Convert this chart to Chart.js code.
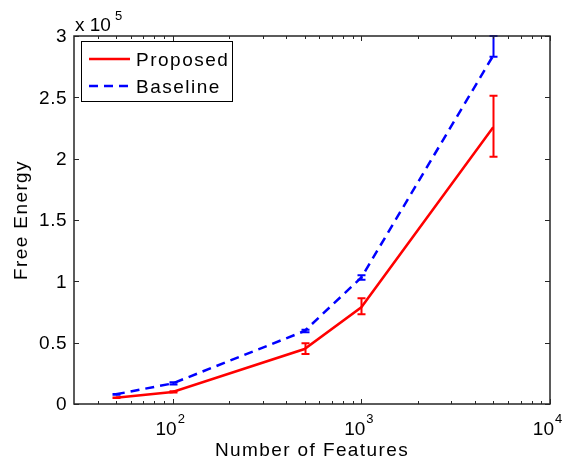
<!DOCTYPE html>
<html lang="en">
<head>
  <meta charset="UTF-8">
  <title>Free Energy vs Number of Features</title>
  <script src="https://cdn.jsdelivr.net/npm/chart.js"></script>
  <style>
    html, body { margin: 0; padding: 0; background: #fff; }
    #wrap { width: 575px; height: 462px; }
  </style>
</head>
<body>
  <div id="wrap"><canvas id="chart" width="575" height="462"></canvas></div>
  <script>
    // data (y in raw units, axis shows x 10^5)
    const features = [50, 100, 500, 1000, 5000];
    const proposed = [5100, 9800, 44800, 78800, 225600];
    const proposedLow = [4800, 9300, 40800, 73100, 201600];
    const proposedHigh = [5400, 10300, 49500, 86200, 251300];
    const baseline = [7900, 16800, 59500, 103100, 284000];
    const baselineLow = [7600, 15800, 58500, 101300, 283000];
    const baselineHigh = [8200, 17800, 60500, 104900, 300000];
    const yTicks = [0, 50000, 100000, 150000, 200000, 250000, 300000];
    const xMajor = [100, 1000, 10000];
    const xMinor = [40, 50, 60, 70, 80, 90, 200, 300, 400, 500, 600, 700, 800, 900,
                    2000, 3000, 4000, 5000, 6000, 7000, 8000, 9000];

    const FONT = '"Liberation Sans", Arial, Helvetica, sans-serif';
    const RED = '#ff0000';
    const BLUE = '#0000ff';

    function pts(ys) {
      return features.map((f, i) => ({ x: f, y: ys[i] }));
    }

    // axes box, inward ticks, labels, error bars, legend
    const matlabLook = {
      id: 'matlabLook',
      afterDatasetsDraw(chart) {
        const { ctx, chartArea: a, scales } = chart;
        const xs = scales.x, ys = scales.y;
        ctx.save();

        // error bars
        const bars = [
          [proposedLow, proposedHigh, RED],
          [baselineLow, baselineHigh, BLUE]
        ];
        bars.forEach(([lo, hi, col]) => {
          ctx.strokeStyle = col;
          ctx.lineWidth = 2;
          features.forEach((f, i) => {
            const px = Math.round(xs.getPixelForValue(f)) + 0.5;
            const y1 = ys.getPixelForValue(lo[i]);
            const y2 = ys.getPixelForValue(hi[i]);
            ctx.beginPath();
            ctx.moveTo(px, y1); ctx.lineTo(px, y2);
            ctx.moveTo(px - 4, y1); ctx.lineTo(px + 4, y1);
            ctx.moveTo(px - 4, y2); ctx.lineTo(px + 4, y2);
            ctx.stroke();
          });
        });

        // box
        ctx.strokeStyle = '#262626';
        ctx.lineWidth = 1.5;
        ctx.strokeRect(a.left, a.top, a.right - a.left, a.bottom - a.top);

        // ticks
        ctx.lineWidth = 1;
        ctx.beginPath();
        yTicks.forEach(v => {
          const py = Math.round(ys.getPixelForValue(v)) + 0.5;
          ctx.moveTo(a.left, py); ctx.lineTo(a.left + 5, py);
          ctx.moveTo(a.right, py); ctx.lineTo(a.right - 5, py);
        });
        xMajor.forEach(v => {
          const px = Math.round(xs.getPixelForValue(v)) + 0.5;
          ctx.moveTo(px, a.bottom); ctx.lineTo(px, a.bottom - 5);
          ctx.moveTo(px, a.top); ctx.lineTo(px, a.top + 5);
        });
        xMinor.forEach(v => {
          const px = Math.round(xs.getPixelForValue(v)) + 0.5;
          ctx.moveTo(px, a.bottom); ctx.lineTo(px, a.bottom - 3);
          ctx.moveTo(px, a.top); ctx.lineTo(px, a.top + 3);
        });
        ctx.stroke();

        // y tick labels
        ctx.fillStyle = '#000';
        ctx.font = '19px ' + FONT;
        ctx.letterSpacing = '0.5px';
        ctx.textAlign = 'right';
        ctx.textBaseline = 'middle';
        yTicks.forEach(v => {
          ctx.fillText(String(v / 1e5), a.left - 7, ys.getPixelForValue(v) + 1);
        });

        // x tick labels 10^n
        ctx.textBaseline = 'alphabetic';
        ctx.letterSpacing = '0px';
        xMajor.forEach(v => {
          const px = xs.getPixelForValue(v);
          const exp = String(Math.round(Math.log10(v)));
          ctx.font = '19px ' + FONT;
          ctx.textAlign = 'right';
          ctx.fillText('10', px + 4, 435);
          ctx.font = '13px ' + FONT;
          ctx.textAlign = 'left';
          ctx.fillText(exp, px + 5, 423);
        });

        // multiplier
        ctx.font = '19px ' + FONT;
        ctx.textAlign = 'left';
        ctx.fillText('x 10', a.left + 1, 31);
        ctx.font = '13px ' + FONT;
        ctx.fillText('5', a.left + 41, 20);

        // axis titles
        ctx.font = '19px ' + FONT;
        ctx.letterSpacing = '1.4px';
        ctx.textAlign = 'center';
        ctx.fillText('Number of Features', (a.left + a.right) / 2, 456);
        ctx.save();
        ctx.translate(27, (a.top + a.bottom) / 2);
        ctx.rotate(-Math.PI / 2);
        ctx.fillText('Free Energy', 0, 0);
        ctx.restore();

        // legend
        ctx.fillStyle = '#fff';
        ctx.fillRect(81, 41, 151, 60);
        ctx.strokeStyle = '#000';
        ctx.lineWidth = 1;
        ctx.strokeRect(81.5, 41.5, 151, 60);
        ctx.lineWidth = 2.5;
        ctx.strokeStyle = RED;
        ctx.beginPath(); ctx.moveTo(89, 59); ctx.lineTo(130, 59); ctx.stroke();
        ctx.strokeStyle = BLUE;
        ctx.setLineDash([9, 6]);
        ctx.beginPath(); ctx.moveTo(89, 86); ctx.lineTo(130, 86); ctx.stroke();
        ctx.setLineDash([]);
        ctx.fillStyle = '#000';
        ctx.font = '19px ' + FONT;
        ctx.letterSpacing = '1.5px';
        ctx.textAlign = 'left';
        ctx.fillText('Proposed', 136, 66);
        ctx.fillText('Baseline', 136, 93);

        ctx.restore();
      }
    };

    new Chart(document.getElementById('chart'), {
      type: 'line',
      data: {
        datasets: [
          {
            label: 'Proposed',
            data: pts(proposed),
            borderColor: RED,
            borderWidth: 2.5,
            pointRadius: 0,
            tension: 0,
            fill: false
          },
          {
            label: 'Baseline',
            data: pts(baseline),
            borderColor: BLUE,
            borderWidth: 2.5,
            borderDash: [9, 6],
            pointRadius: 0,
            tension: 0,
            fill: false
          }
        ]
      },
      options: {
        responsive: false,
        animation: false,
        layout: { padding: { left: 74, right: 25, top: 36, bottom: 58 } },
        plugins: { legend: { display: false }, tooltip: { enabled: false } },
        scales: {
          x: { type: 'logarithmic', min: 30, max: 10000, display: false },
          y: { type: 'linear', min: 0, max: 300000, display: false }
        }
      },
      plugins: [matlabLook]
    });
  </script>
</body>
</html>
